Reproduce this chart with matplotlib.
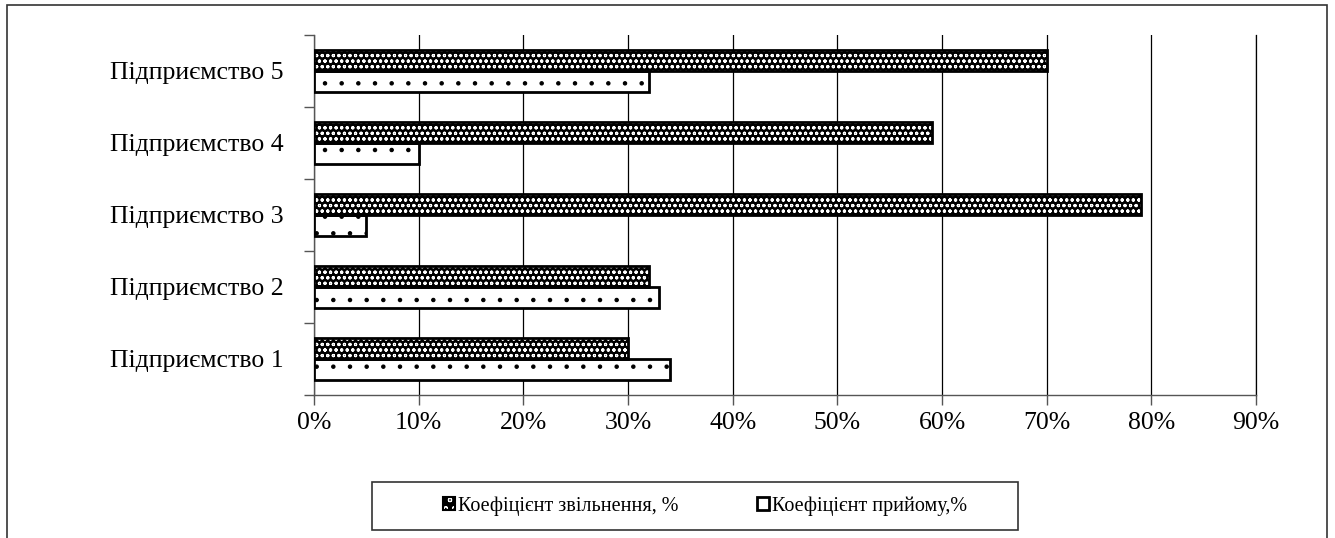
import matplotlib.pyplot as plt
from matplotlib.patches import Rectangle
import numpy as np

plt.rcParams['font.family'] = ['Liberation Serif', 'DejaVu Serif']
plt.rcParams['hatch.linewidth'] = 0.8

# enterprises, bottom to top
enterprises = ['Підприємство 1', 'Підприємство 2', 'Підприємство 3',
               'Підприємство 4', 'Підприємство 5']
dismissal = [30, 32, 79, 59, 70]   # Коефіцієнт звільнення, %
hiring = [34, 33, 5, 10, 32]       # Коефіцієнт прийому, %
x_ticks = [0, 10, 20, 30, 40, 50, 60, 70, 80, 90]

FS = 18.5
W, H = 1335, 538
fig = plt.figure(figsize=(W / 100, H / 100), dpi=100)
ax = fig.add_axes([314 / W, 1 - 395 / H, (1256 - 314) / W, (395 - 35) / H])

y = np.arange(len(enterprises))
h = 0.29

# dark bars: black fill with white dot hatch, then a black outline on top
ax.barh(y + h / 2, dismissal, height=h, color='black', edgecolor='white',
        hatch='ooo', linewidth=0, zorder=3)
ax.barh(y + h / 2, dismissal, height=h, fill=False, edgecolor='black',
        linewidth=2, zorder=4)
# light bars: white fill with sparse black dots
ax.barh(y - h / 2, hiring, height=h, color='white', edgecolor='black',
        hatch='.', linewidth=2, zorder=3)

ax.set_xlim(0, 90)
ax.set_ylim(-0.5, len(enterprises) - 0.5)
ax.set_xticks(x_ticks)
ax.set_xticklabels([f'{v}%' for v in x_ticks], fontsize=FS)
ax.set_yticks(y)
ax.set_yticklabels(enterprises, fontsize=FS)
ax.set_yticks(np.arange(-0.5, len(enterprises)), minor=True)

ax.tick_params(axis='y', which='major', length=0, pad=22)
ax.tick_params(axis='y', which='minor', length=7, width=1, color='#555555')
ax.tick_params(axis='x', length=7, width=1, color='#555555', pad=5)

ax.grid(axis='x', color='black', linewidth=0.9, zorder=0)
ax.set_axisbelow(True)
ax.spines['top'].set_visible(False)
ax.spines['right'].set_color('black')
ax.spines['right'].set_linewidth(0.9)
ax.spines['left'].set_color('#555555')
ax.spines['bottom'].set_color('#555555')
ax.spines['left'].set_linewidth(1)
ax.spines['bottom'].set_linewidth(1)

# outer chart frame
fig.patches.append(Rectangle((7 / W, -0.05), (1327 - 7) / W, 1.05 - 5 / H,
                             transform=fig.transFigure, fill=False,
                             edgecolor='#333333', linewidth=1.2))
# legend frame
fig.patches.append(Rectangle((372 / W, 1 - 530 / H), (1018 - 372) / W, 48 / H,
                             transform=fig.transFigure, fill=False,
                             edgecolor='#333333', linewidth=1.2))

h1 = Rectangle((0, 0), 1, 1, facecolor='black', edgecolor='white', hatch='oo', linewidth=0)
h1_edge = Rectangle((0, 0), 1, 1, fill=False, edgecolor='black', linewidth=1.5)
h2 = Rectangle((0, 0), 1, 1, facecolor='white', edgecolor='black', linewidth=2)
fig.legend([(h1, h1_edge), h2], ['Коефіцієнт звільнення, %', 'Коефіцієнт прийому,%'],
           loc='center', bbox_to_anchor=(705 / W, 1 - 506 / H), ncol=2,
           frameon=False, fontsize=14.5, handlelength=0.6, handleheight=0.6,
           handletextpad=0.15, columnspacing=3.9)

fig.savefig('out.png', dpi=100)
